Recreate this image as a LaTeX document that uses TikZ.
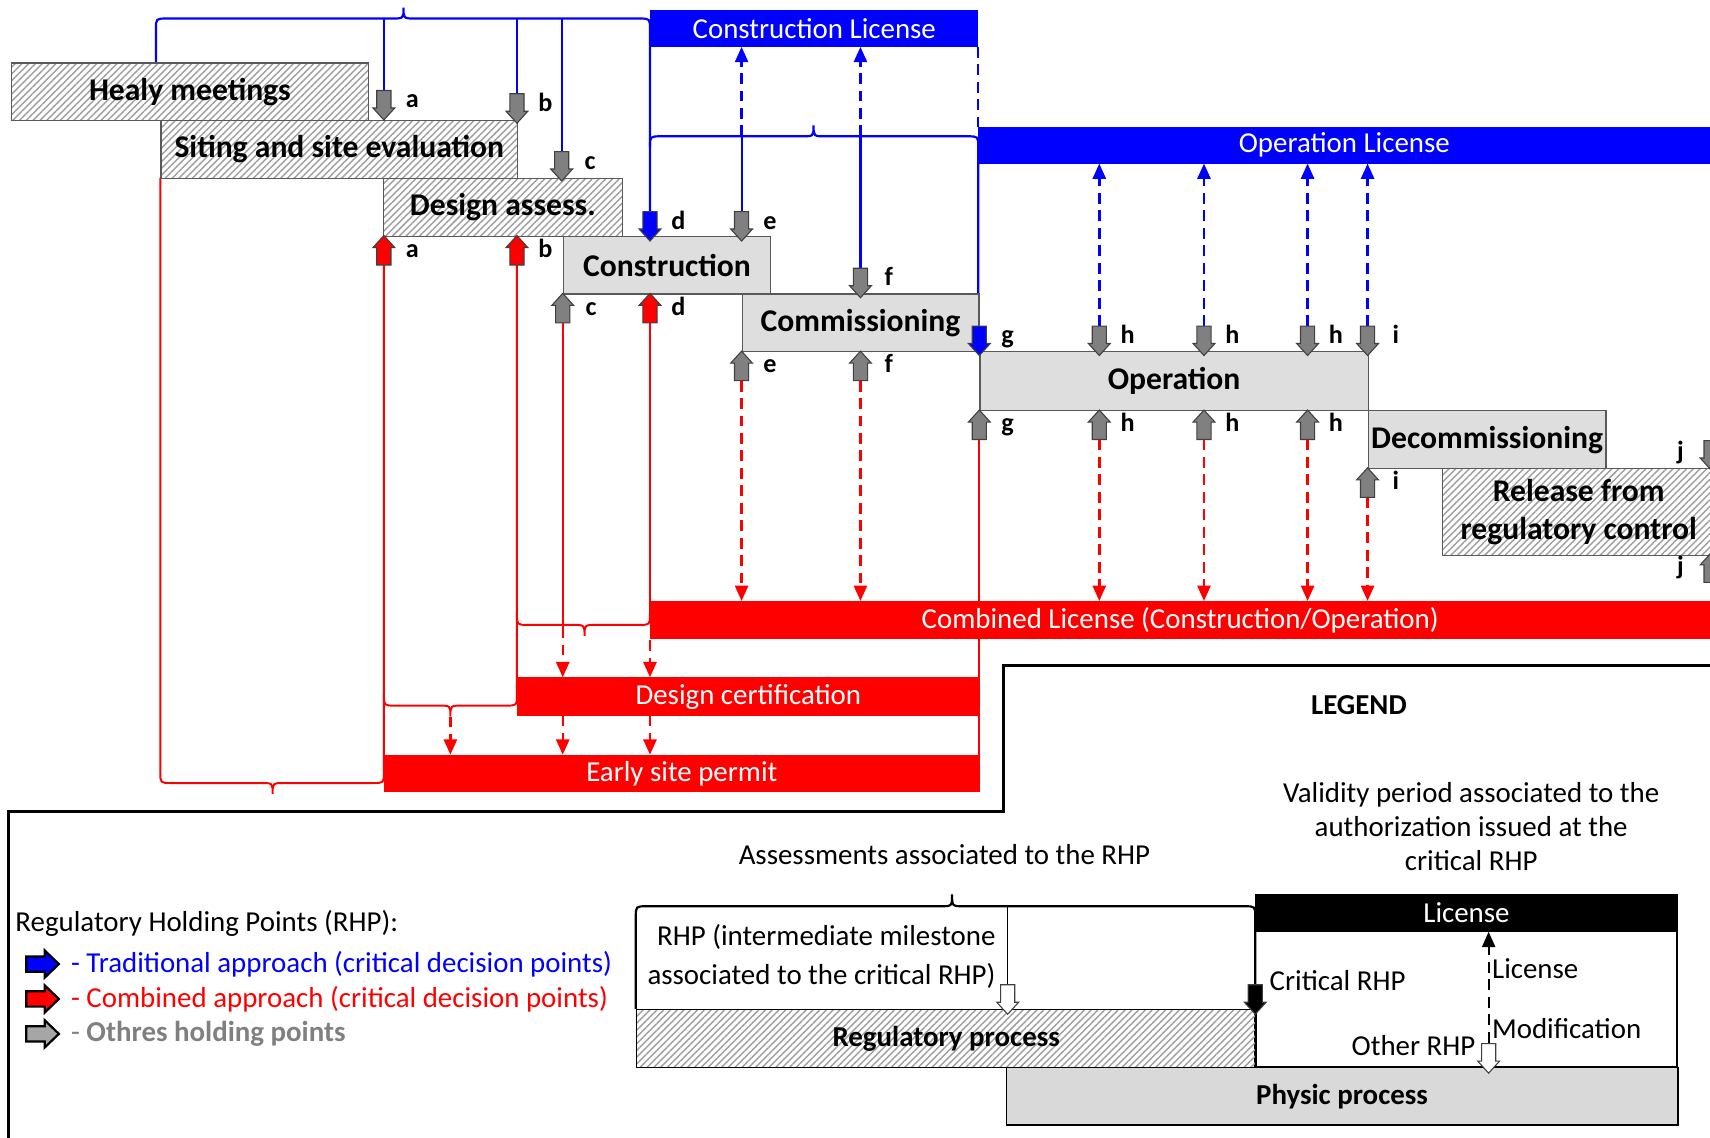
\documentclass[tikz,border=0pt]{standalone}
\usepackage{fontspec}
\setmainfont{Carlito}
\usetikzlibrary{arrows.meta,patterns.meta}

\definecolor{hpgrey}{RGB}{128,128,128}
\definecolor{stagegrey}{RGB}{222,222,222}
\definecolor{physgrey}{RGB}{217,217,217}
\definecolor{keygrey}{RGB}{166,166,166}

\tikzset{
  stage/.style={draw=black!65, line width=1.2pt, inner sep=0pt, anchor=north west,
    align=center, font=\fontsize{29}{35}\selectfont\bfseries},
  hatched/.style={stage, pattern={Lines[angle=45,distance=4.4pt,line width=1.3pt]},
    pattern color=black!38},
  shaded/.style={stage, fill=stagegrey},
  permit/.style={inner sep=0pt, anchor=north west, text=white,
    font=\fontsize{26.5}{30}\selectfont},
  hp/.style={draw=black!75, line width=1pt},
  hplabel/.style={anchor=base, font=\fontsize{24}{28}\selectfont\bfseries},
  trad/.style={blue, line width=2pt},
  comb/.style={red, line width=1.8pt},
  dashes/.style={dash pattern=on 10pt off 6pt, line width=2.2pt},
  issue/.style={dashes, -{Triangle[length=14pt,width=12pt]}},
  note/.style={inner sep=0pt, font=\fontsize{26.5}{31}\selectfont},
}

% holding point markers: [label]{x}{tip y}{fill}
\newcommand{\hpdown}[4][]{%
  \filldraw[hp, fill=#4] (#2,#3) -- ++(-10,-11) -- ++(3.5,0) -- ++(0,-16)
    -- ++(13,0) -- ++(0,16) -- ++(3.5,0) -- cycle;
  \node[hplabel] (hp-#2-#3) at (#2+26,#3-11) {#1};}
\newcommand{\hpup}[4][]{%
  \filldraw[hp, fill=#4] (#2,#3) -- ++(-10,11) -- ++(3.5,0) -- ++(0,16)
    -- ++(13,0) -- ++(0,-16) -- ++(3.5,0) -- cycle;
  \node[hplabel] (hp-#2-#3) at (#2+26,#3+20) {#1};}
% key marker pointing right: {tail x}{centre y}{fill}
\newcommand{\keyarrow}[3]{%
  \filldraw[line width=2pt, fill=#3] (#1,#2-7) -- ++(17,0) -- ++(0,-5.5)
    -- ++(13,12.5) -- ++(-13,12.5) -- ++(0,-5.5) -- ++(-17,0) -- cycle;}

\begin{document}
\begin{tikzpicture}[x=1pt, y=-1pt]
\useasboundingbox (0,0) rectangle (1568,1043);
\clip (0,0) rectangle (1568,1043);

% traditional route (blue)
\draw[trad] (143,57) -- (143,27) .. controls (143,17) .. (153,17) -- (359,17)
  .. controls (370,17) .. (370,7) .. controls (370,17) .. (381,17) -- (586,17)
  .. controls (596,17) .. (596,27) -- (596,194);
\foreach \x/\y in {352/83, 474/86, 515/139}
  \draw[trad] (\x,17) -- (\x,\y);
\draw[trad] (596,135) .. controls (596,125) .. (606,125) -- (735,125)
  .. controls (746,125) .. (746,115) .. controls (746,125) .. (757,125) -- (887,125)
  .. controls (897,125) .. (897,135) -- (897,299);
\draw[trad] (680,194) -- (680,125);
\draw[trad] (789,246) -- (789,125);
\draw[trad, issue] (680,125) -- (680,43);
\draw[trad, issue] (789,125) -- (789,43);
\draw[trad, dashes] (897,43) -- (897,116);
\foreach \x in {1008,1104,1199,1254}
  \draw[trad, issue] (\x,299) -- (\x,150);

% combined route (red)
\draw[comb] (147,163) -- (147,708) .. controls (147,718) .. (157,718) -- (239,718)
  .. controls (250,718) .. (250,728) .. controls (250,718) .. (261,718) -- (342,718)
  .. controls (352,718) .. (352,708) -- (352,243);
\draw[comb] (352,637) .. controls (352,647) .. (362,647) -- (402,647)
  .. controls (413,647) .. (413,657) .. controls (413,647) .. (424,647) -- (464,647)
  .. controls (474,647) .. (474,637) -- (474,243);
\draw[comb] (474,563) .. controls (474,573) .. (484,573) -- (525,573)
  .. controls (536,573) .. (536,583) .. controls (536,573) .. (547,573) -- (586,573)
  .. controls (596,573) .. (596,563) -- (596,296);
\draw[comb] (516,296) -- (516,575);
\draw[comb, issue] (516,575) -- (516,621);
\draw[comb, issue] (516,656) -- (516,692);
\draw[comb, issue] (596,587) -- (596,621);
\draw[comb, issue] (596,656) -- (596,692);
\draw[comb, issue] (413,657) -- (413,692);
\draw[comb] (898,403) -- (898,726);
\foreach \x/\y in {680/349, 789/349, 1008/403, 1104/403, 1199/403, 1254/456}
  \draw[comb, issue] (\x,\y) -- (\x,551);

% licences
\node[permit, fill=blue, minimum width=301, minimum height=34] (conlic) at (596,9) {Construction License};
\node[permit, fill=blue, minimum width=671, minimum height=34] (oplic) at (897,116) {Operation License};
\node[permit, fill=red, minimum width=972, minimum height=35] (comblic) at (596,551) {Combined License (Construction/Operation)};
\node[permit, fill=red, minimum width=424, minimum height=35] (descert) at (474,621) {Design certification};
\node[permit, fill=red, minimum width=546, minimum height=34] (esp) at (352,692) {Early site permit};

% life-cycle stages
\node[hatched, minimum width=327, minimum height=53] (healy) at (10,57) {Healy meetings};
\node[hatched, minimum width=327, minimum height=53] (siting) at (147,110) {Siting and site evaluation};
\node[hatched, minimum width=219, minimum height=53] (design) at (351,163) {Design assess.};
\node[shaded, minimum width=190, minimum height=53] (constr) at (516,216) {Construction};
\node[shaded, minimum width=217, minimum height=53] (commis) at (680,269) {Commissioning};
\node[shaded, minimum width=356, minimum height=54] (oper) at (898,322) {Operation};
\node[shaded, minimum width=218, minimum height=53] (decom) at (1254,376) {Decommissioning};
\node[hatched, minimum width=250, minimum height=80] (release) at (1322,429) {Release from\\regulatory control};

% holding points
\hpdown[a]{352}{110}{hpgrey}
\hpdown[b]{474}{113}{hpgrey}
\hpdown[c]{515}{166}{hpgrey}
\hpdown[d]{596}{221}{blue}
\hpdown[e]{680}{221}{hpgrey}
\hpdown[f]{789}{273}{hpgrey}
\hpdown[g]{898}{326}{blue}
\hpdown[i]{1254}{326}{hpgrey}
\hpdown{1569}{431}{hpgrey}
\hpup[a]{352}{216}{red}
\hpup[b]{474}{216}{red}
\hpup[c]{516}{269}{hpgrey}
\hpup[d]{596}{269}{red}
\hpup[e]{680}{322}{hpgrey}
\hpup[f]{789}{322}{hpgrey}
\hpup[g]{898}{376}{hpgrey}
\hpup[i]{1254}{429}{hpgrey}
\hpup{1569}{507}{hpgrey}
\foreach \x in {1008,1104,1199} {
  \hpdown[h]{\x}{326}{hpgrey}
  \hpup[h]{\x}{376}{hpgrey}
}
\node[hplabel] (j-top) at (1541,421) {j};
\node[hplabel] (j-bot) at (1541,527) {j};

% legend
\draw[line width=2.5pt] (8,1050) -- (8,744) -- (920,744) -- (920,610) -- (1575,610);
\node[note, font=\fontsize{26.5}{31}\selectfont\bfseries] (legend) at (1246,647) {LEGEND};
\node[note, align=center] (validity) at (1349,758) {Validity period associated to the\\authorization issued at the\\critical RHP};
\node[note] (assess) at (866,784) {Assessments associated to the RHP};
\node[note, anchor=west] (rhp) at (14,847) {Regulatory Holding Points (RHP):};
\keyarrow{24}{884}{blue}
\node[note, anchor=west, text=blue] (ktrad) at (65,884) {- Traditional approach (critical decision points)};
\keyarrow{24}{916}{red}
\node[note, anchor=west, text=red] (kcomb) at (65,916) {- Combined approach (critical decision points)};
\keyarrow{24}{948}{keygrey}
\node[note, anchor=west, text=hpgrey] (kother) at (65,948) {- \textbf{Othres holding points}};

% legend example
\draw[line width=1.5pt] (1151,854) rectangle (1538,978);
\draw[line width=2pt] (583,925) -- (583,841) .. controls (583,831) .. (593,831) -- (862,831)
  .. controls (873,831) .. (873,820) .. controls (873,831) .. (884,831) -- (1141,831)
  .. controls (1151,831) .. (1151,841) -- (1151,903);
\draw[line width=1.2pt] (924,831) -- (924,903);
\node[hatched, font=\fontsize{26.5}{31}\selectfont\bfseries, draw=black, minimum width=568, minimum height=53] (regproc) at (583,925) {Regulatory process};
\node[stage, fill=physgrey, font=\fontsize{26.5}{31}\selectfont\bfseries, draw=black, minimum width=616, minimum height=53] (physproc) at (922,978) {Physic process};
\node[permit, fill=black, minimum width=387, minimum height=34] (lic) at (1151,820) {License};
\draw[black, issue, line width=1.8pt] (1365,956) -- (lic.south -| 1365,0);
\hpdown{924}{930}{white}
\hpdown{1151}{930}{black}
\hpdown{1365}{984}{white}
\node[note, anchor=base east] (ms1) at (913,867) {RHP (intermediate milestone};
\node[note, anchor=base east] (ms2) at (913,903) {associated to the critical RHP)};
\node[note, anchor=west] (crit) at (1164,899) {Critical RHP};
\node[note, anchor=west] (licnote) at (1368,888) {License};
\node[note, anchor=west] (modnote) at (1368,943) {Modification};
\node[note, anchor=east] (other) at (1353,959) {Other RHP};
\end{tikzpicture}
\end{document}
